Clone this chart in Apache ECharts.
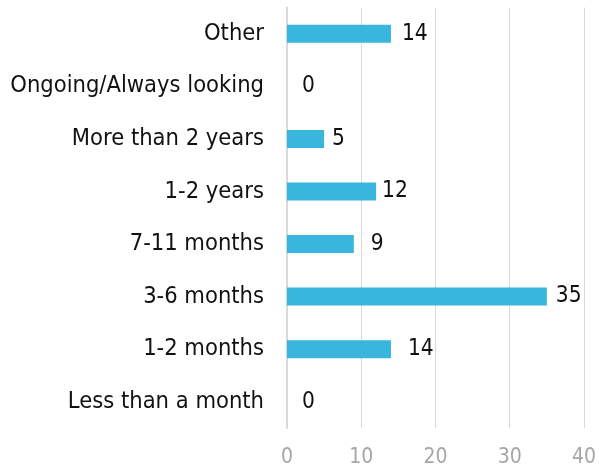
<!DOCTYPE html>
<html><head><meta charset="utf-8">
<script src="https://cdn.jsdelivr.net/npm/echarts@6/dist/echarts.min.js"></script>
<style>html,body{margin:0;padding:0;background:#fff}#c{width:599px;height:472px}</style>
</head><body><div id="c"></div>
<script>
const categories = ["Less than a month","1-2 months","3-6 months","7-11 months","1-2 years","More than 2 years","Ongoing/Always looking","Other"];
const values = [0,14,35,9,12,5,0,14];
const xTicks = [0,10,20,30,40];
const FONT = "'DejaVu Sans Condensed', 'DejaVu Sans'";
// label gaps (styling only), matched to the reference's label placement
const labelGap = [15,17,9,17,6,8,15,11];
const chart = echarts.init(document.getElementById('c'), null, {renderer:'canvas'});
chart.setOption({
  animation:false,
  grid:{left:287,right:15,top:7.5,bottom:44,containLabel:false},
  xAxis:{type:'value',min:xTicks[0],max:xTicks[xTicks.length-1],interval:10,
    axisLine:{show:false},axisTick:{show:false},
    splitLine:{lineStyle:{color:'#d9d9d9',width:1}},
    axisLabel:{color:'#a6a6a6',fontFamily:FONT,fontSize:21,margin:19}},
  yAxis:{type:'category',data:categories,
    axisLine:{show:true,lineStyle:{color:'#d9d9d9',width:2}},axisTick:{show:false},
    axisLabel:{color:'#111',fontFamily:FONT,fontSize:23.5,margin:23}},
  series:[{type:'bar',data:values.map((v,i)=>({value:v,label:{distance:labelGap[i]}})),barWidth:18,
    itemStyle:{color:'#38b6de'},
    label:{show:true,position:'right',color:'#111',fontFamily:FONT,fontSize:22.5}}]
});
</script></body></html>
